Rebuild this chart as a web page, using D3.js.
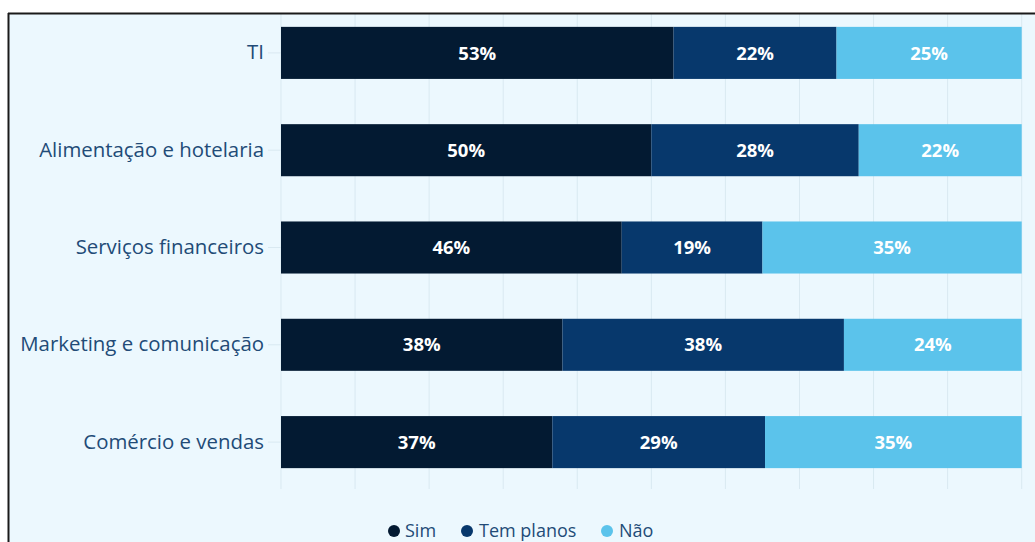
<!DOCTYPE html>
<html>
<head>
<meta charset="utf-8">
<script src="https://cdn.jsdelivr.net/npm/d3@7"></script>
<style>
  html, body { margin: 0; padding: 0; background: #ffffff; }
  svg { display: block; }
</style>
</head>
<body>
<svg id="chart" width="1035" height="542"></svg>
<script>
const categories = ["TI", "Alimentação e hotelaria", "Serviços financeiros", "Marketing e comunicação", "Comércio e vendas"];
const seriesNames = ["Sim", "Tem planos", "Não"];
const sim = [53, 50, 46, 38, 37];
const temPlanos = [22, 28, 19, 38, 29];
const nao = [25, 22, 35, 24, 35];
const xTicks = [0, 10, 20, 30, 40, 50, 60, 70, 80, 90, 100];
const colors = ["#031a32", "#07386c", "#5bc3eb"];

const rows = categories.map((c, i) => ({ cat: c, "Sim": sim[i], "Tem planos": temPlanos[i], "Não": nao[i] }));

const svg = d3.select("#chart");
const W = 1035, H = 542;

svg.append("rect").attr("x", 0).attr("y", 0).attr("width", W).attr("height", H).attr("fill", "#ffffff");
svg.append("rect").attr("x", 9).attr("y", 13).attr("width", W).attr("height", H).attr("fill", "#ecf8fe");

const plot = { left: 281, right: 1021.7, top: 4, bottom: 491, gridBottom: 489 };

const x = d3.scaleLinear().domain([0, 1]).range([plot.left, plot.right]);
const y = d3.scaleBand().domain(categories).range([plot.top, plot.bottom]).paddingInner(0.465).paddingOuter(0.235);

const stack = d3.stack().keys(seriesNames).offset(d3.stackOffsetExpand);
const stacked = stack(rows);

svg.append("defs").append("clipPath").attr("id", "clip")
  .append("rect").attr("x", 9).attr("y", 14).attr("width", W).attr("height", H);
const clipG = svg.append("g").attr("clip-path", "url(#clip)");

// grid lines
const xg = d3.scaleLinear().domain([0, 100]).range([plot.left, plot.right]);
clipG.append("g").selectAll("line").data(xTicks).join("line")
  .attr("x1", d => xg(d)).attr("x2", d => xg(d))
  .attr("y1", plot.top).attr("y2", plot.gridBottom)
  .attr("stroke", "#d9e9f1").attr("stroke-width", 1);

// y axis
const yAxis = d3.axisLeft(y).tickSize(13).tickPadding(4);
const yg = clipG.append("g").attr("transform", `translate(${plot.left},0)`).call(yAxis);
yg.select(".domain").remove();
yg.selectAll(".tick line").attr("stroke", "#d9e9f1");
yg.selectAll(".tick text")
  .attr("fill", "#224b77")
  .style("font-family", "'Open Sans', sans-serif")
  .style("font-size", "20.4px");

// bars
const layer = clipG.append("g").selectAll("g").data(stacked).join("g")
  .attr("fill", (d, i) => colors[i]);
layer.selectAll("rect").data(d => d).join("rect")
  .attr("x", d => x(d[0]))
  .attr("y", d => y(d.data.cat))
  .attr("width", d => x(d[1]) - x(d[0]))
  .attr("height", y.bandwidth());

// labels
stacked.forEach((s, si) => {
  clipG.append("g").selectAll("text").data(s).join("text")
    .attr("x", d => (x(d[0]) + x(d[1])) / 2)
    .attr("y", d => y(d.data.cat) + y.bandwidth() / 2)
    .attr("dy", "0.36em")
    .attr("text-anchor", "middle")
    .attr("fill", "#ffffff")
    .style("font-family", "'Open Sans', sans-serif")
    .style("font-weight", "700")
    .style("font-size", "18.5px")
    .text(d => d.data[s.key] + "%");
});

// legend
const legendItems = [
  { name: "Sim", cx: 394, tx: 405 },
  { name: "Tem planos", cx: 467, tx: 479 },
  { name: "Não", cx: 607, tx: 619 }
];
const lg = clipG.append("g");
legendItems.forEach((it, i) => {
  lg.append("circle").attr("cx", it.cx).attr("cy", 531).attr("r", 6).attr("fill", colors[i]);
  lg.append("text").attr("x", it.tx).attr("y", 531).attr("dy", "0.36em")
    .attr("fill", "#224b77")
    .style("font-family", "'Open Sans', sans-serif")
    .style("font-size", "18px")
    .text(seriesNames[i]);
});

// frame lines
svg.append("line").attr("x1", 8).attr("x2", W).attr("y1", 13.5).attr("y2", 13.5).attr("stroke", "#1a1a1a").attr("stroke-width", 2);
svg.append("line").attr("x1", 8.5).attr("x2", 8.5).attr("y1", 13).attr("y2", H).attr("stroke", "#1a1a1a").attr("stroke-width", 2);
</script>
</body>
</html>
